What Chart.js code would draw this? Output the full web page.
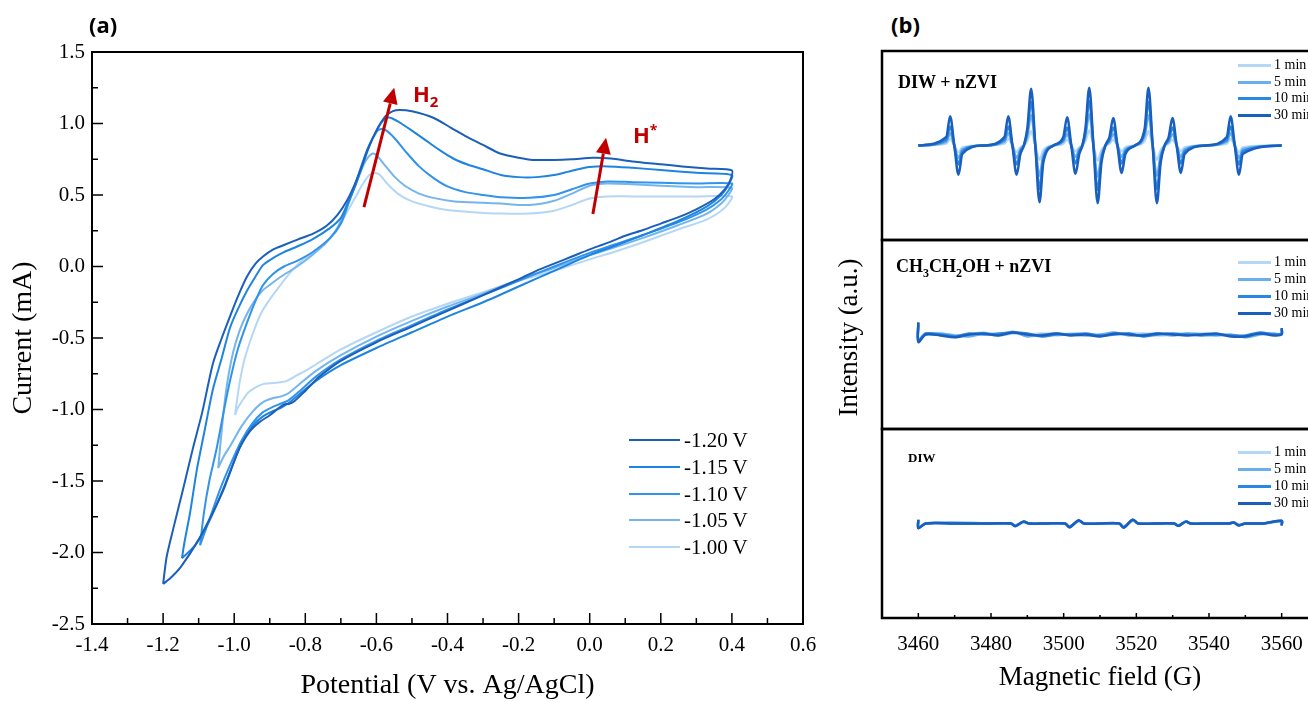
<!DOCTYPE html>
<html>
<head>
<meta charset="utf-8">
<script src="https://cdn.jsdelivr.net/npm/chart.js@4.4.0/dist/chart.umd.min.js"></script>
<style>
html, body { margin: 0; padding: 0; overflow: hidden; background: #fff; }
#page { position: absolute; left: 0; top: 0; width: 1308px; height: 702px; overflow: hidden; background: #fff; }
canvas { position: absolute; }
.txt { position: absolute; white-space: nowrap; line-height: 1; color: #000; font-family: "Liberation Serif", serif; }
.lab { font-family: "Open Sans", sans-serif; font-weight: 700; font-size: 22px; }
.red { font-family: "Open Sans", sans-serif; font-weight: 700; font-size: 22px; color: #c00000; }
.sub { font-family: "Liberation Serif", serif; font-weight: 700; }
.leg { position: absolute; }
</style>
</head>
<body>
<div id="page">
  <canvas id="cv" width="830" height="702" style="left:0;top:0"></canvas>
  <canvas id="eprTop" width="440" height="193" style="left:880px;top:49px"></canvas>
  <canvas id="eprMid" width="440" height="193" style="left:880px;top:238px"></canvas>
  <canvas id="eprLow" width="468" height="275" style="left:866px;top:427px"></canvas>

  <div class="txt lab" style="left:89px;top:13px">(a)</div>
  <div class="txt lab" style="left:891px;top:13px">(b)</div>
  <div class="txt red" style="left:413px;top:82px">H<sub style="font-size:15px">2</sub></div>
  <div class="txt red" style="left:633px;top:123px">H<sup style="font-size:14px">*</sup></div>

  <div class="txt sub" style="left:898px;top:73px;font-size:18px">DIW + nZVI</div>
  <div class="txt sub" style="left:896px;top:257px;font-size:18px">CH<sub style="font-size:12px">3</sub>CH<sub style="font-size:12px">2</sub>OH + nZVI</div>
  <div class="txt sub" style="left:908px;top:451px;font-size:13px">DIW</div>
  <div class="txt" id="ylabB" style="left:768px;top:324px;width:160px;text-align:center;font-size:27px;transform:rotate(-90deg)">Intensity (a.u.)</div>

  <div class="leg" id="legCV" style="left:629px;top:440px"></div>
  <div class="leg" id="legTop" style="left:1238px;top:65px"></div>
  <div class="leg" id="legMid" style="left:1238px;top:262px"></div>
  <div class="leg" id="legLow" style="left:1238px;top:452px"></div>
</div>
<script>
// (a) cyclic voltammograms, [potential V, current mA]
const cvM120 = [[-1.200,-2.22],[-1.190,-2.03],[-1.172,-1.84],[-1.144,-1.56],[-1.116,-1.27],[-1.090,-1.02],[-1.060,-0.68],[-1.035,-0.50],[-1.012,-0.35],[-0.988,-0.20],[-0.964,-0.07],[-0.940,0.02],[-0.919,0.07],[-0.890,0.12],[-0.860,0.15],[-0.820,0.19],[-0.778,0.23],[-0.740,0.285],[-0.710,0.36],[-0.683,0.46],[-0.660,0.58],[-0.640,0.71],[-0.626,0.81],[-0.600,0.95],[-0.575,1.05],[-0.555,1.085],[-0.535,1.094],[-0.500,1.085],[-0.440,1.04],[-0.390,0.97],[-0.345,0.906],[-0.300,0.85],[-0.252,0.79],[-0.200,0.76],[-0.160,0.745],[-0.100,0.745],[-0.050,0.75],[0.010,0.76],[0.060,0.755],[0.120,0.735],[0.200,0.715],[0.260,0.70],[0.330,0.685],[0.400,0.672],
  [0.395,0.60],[0.380,0.54],[0.350,0.47],[0.300,0.40],[0.250,0.345],[0.200,0.30],[0.150,0.255],[0.100,0.215],[0.050,0.165],[0.000,0.12],[-0.050,0.07],[-0.100,0.02],[-0.150,-0.03],[-0.200,-0.09],[-0.300,-0.20],[-0.400,-0.31],[-0.500,-0.42],[-0.600,-0.53],[-0.700,-0.66],[-0.760,-0.77],[-0.800,-0.87],[-0.830,-0.94],[-0.845,-0.96],[-0.860,-0.965],[-0.875,-0.99],[-0.900,-1.04],[-0.930,-1.09],[-0.955,-1.15],[-0.985,-1.27],[-1.030,-1.56],[-1.060,-1.72],[-1.100,-1.91],[-1.150,-2.10],[-1.180,-2.18],[-1.200,-2.22]];
const cvM115 = [[-1.147,-2.04],[-1.140,-1.93],[-1.124,-1.72],[-1.105,-1.42],[-1.085,-1.17],[-1.060,-0.86],[-1.035,-0.64],[-1.012,-0.43],[-0.990,-0.30],[-0.964,-0.17],[-0.940,-0.07],[-0.919,0.01],[-0.890,0.06],[-0.860,0.10],[-0.823,0.14],[-0.780,0.19],[-0.730,0.27],[-0.700,0.34],[-0.683,0.43],[-0.660,0.56],[-0.640,0.70],[-0.620,0.84],[-0.600,0.95],[-0.585,1.01],[-0.570,1.04],[-0.555,1.035],[-0.530,1.00],[-0.500,0.95],[-0.460,0.88],[-0.420,0.81],[-0.380,0.75],[-0.340,0.71],[-0.300,0.68],[-0.250,0.64],[-0.200,0.625],[-0.150,0.625],[-0.100,0.64],[-0.050,0.67],[0.000,0.695],[0.050,0.70],[0.120,0.69],[0.200,0.675],[0.300,0.655],[0.400,0.64],
  [0.390,0.57],[0.370,0.50],[0.330,0.42],[0.250,0.32],[0.150,0.22],[0.066,0.14],[0.000,0.08],[-0.100,-0.03],[-0.200,-0.14],[-0.300,-0.25],[-0.400,-0.35],[-0.500,-0.46],[-0.600,-0.57],[-0.700,-0.69],[-0.770,-0.80],[-0.820,-0.90],[-0.850,-0.96],[-0.870,-0.99],[-0.890,-1.01],[-0.920,-1.05],[-0.950,-1.12],[-0.985,-1.27],[-1.030,-1.55],[-1.070,-1.78],[-1.110,-1.95],[-1.147,-2.04]];
const cvM110 = [[-1.096,-1.95],[-1.085,-1.72],[-1.070,-1.50],[-1.050,-1.28],[-1.030,-1.02],[-1.010,-0.78],[-0.990,-0.58],[-0.965,-0.40],[-0.940,-0.24],[-0.919,-0.13],[-0.890,-0.05],[-0.860,0.00],[-0.823,0.04],[-0.780,0.10],[-0.730,0.20],[-0.700,0.30],[-0.680,0.43],[-0.660,0.57],[-0.640,0.72],[-0.620,0.85],[-0.600,0.94],[-0.590,0.96],[-0.575,0.955],[-0.550,0.90],[-0.520,0.81],[-0.480,0.70],[-0.440,0.62],[-0.400,0.56],[-0.350,0.52],[-0.300,0.50],[-0.250,0.485],[-0.170,0.48],[-0.100,0.50],[-0.050,0.54],[0.000,0.58],[0.050,0.595],[0.120,0.59],[0.200,0.585],[0.300,0.58],[0.400,0.58],
  [0.390,0.53],[0.370,0.47],[0.330,0.40],[0.250,0.31],[0.150,0.22],[0.066,0.15],[0.000,0.095],[-0.100,0.00],[-0.200,-0.10],[-0.300,-0.20],[-0.400,-0.30],[-0.500,-0.41],[-0.600,-0.52],[-0.700,-0.65],[-0.770,-0.77],[-0.820,-0.88],[-0.850,-0.94],[-0.870,-0.96],[-0.890,-0.98],[-0.920,-1.02],[-0.950,-1.10],[-0.980,-1.22],[-1.010,-1.38],[-1.040,-1.56],[-1.070,-1.77],[-1.096,-1.95]];
const cvM105 = [[-1.045,-1.41],[-1.038,-1.22],[-1.030,-1.02],[-1.020,-0.82],[-1.003,-0.60],[-0.985,-0.45],[-0.964,-0.33],[-0.940,-0.23],[-0.919,-0.165],[-0.890,-0.11],[-0.871,-0.075],[-0.823,0.00],[-0.780,0.08],[-0.740,0.17],[-0.710,0.27],[-0.690,0.38],[-0.670,0.50],[-0.650,0.63],[-0.630,0.74],[-0.612,0.79],[-0.600,0.78],[-0.580,0.72],[-0.550,0.63],[-0.520,0.565],[-0.480,0.51],[-0.440,0.48],[-0.380,0.455],[-0.300,0.445],[-0.250,0.44],[-0.170,0.43],[-0.100,0.46],[-0.050,0.51],[0.000,0.565],[0.050,0.58],[0.120,0.575],[0.200,0.565],[0.300,0.555],[0.400,0.55],
  [0.390,0.50],[0.370,0.44],[0.330,0.37],[0.250,0.29],[0.150,0.20],[0.066,0.13],[0.000,0.08],[-0.100,-0.01],[-0.200,-0.09],[-0.300,-0.19],[-0.400,-0.28],[-0.500,-0.38],[-0.600,-0.49],[-0.700,-0.62],[-0.770,-0.73],[-0.820,-0.83],[-0.850,-0.89],[-0.870,-0.91],[-0.890,-0.92],[-0.920,-0.95],[-0.950,-1.02],[-0.980,-1.12],[-1.010,-1.25],[-1.030,-1.33],[-1.045,-1.41]];
const cvM100 = [[-0.998,-1.04],[-0.990,-0.90],[-0.984,-0.80],[-0.970,-0.64],[-0.947,-0.465],[-0.925,-0.33],[-0.900,-0.23],[-0.870,-0.13],[-0.843,-0.045],[-0.810,0.04],[-0.778,0.094],[-0.740,0.17],[-0.710,0.255],[-0.683,0.38],[-0.660,0.48],[-0.640,0.57],[-0.620,0.64],[-0.604,0.654],[-0.590,0.64],[-0.570,0.58],[-0.540,0.51],[-0.500,0.455],[-0.450,0.42],[-0.400,0.395],[-0.330,0.38],[-0.250,0.37],[-0.170,0.37],[-0.100,0.39],[-0.050,0.43],[0.000,0.475],[0.050,0.49],[0.120,0.49],[0.200,0.49],[0.300,0.49],[0.400,0.49],
  [0.390,0.44],[0.370,0.39],[0.330,0.33],[0.250,0.26],[0.150,0.17],[0.066,0.10],[0.000,0.05],[-0.100,-0.03],[-0.200,-0.10],[-0.300,-0.18],[-0.400,-0.26],[-0.500,-0.35],[-0.600,-0.46],[-0.700,-0.58],[-0.767,-0.68],[-0.800,-0.73],[-0.823,-0.76],[-0.852,-0.80],[-0.870,-0.81],[-0.890,-0.815],[-0.915,-0.82],[-0.936,-0.84],[-0.960,-0.88],[-0.975,-0.93],[-0.990,-0.99],[-0.998,-1.04]];

const cvLabels = ['-1.20 V', '-1.15 V', '-1.10 V', '-1.05 V', '-1.00 V'];
const cvColors = ['#1b5fba', '#1e84df', '#3193ea', '#74b5ef', '#b4d7f6'];
const cvLoops = [cvM120, cvM115, cvM110, cvM105, cvM100];

// (b) EPR spectra, magnetic field in G, intensity in arbitrary units
const eprLabels = ['1 min', '5 min', '10 min', '30 min'];
const eprColors = ['#b4d7f6', '#6aaeec', '#2a88e2', '#1a5fbe'];

const fieldTop = [3460,
  3467.7, 3468.75, 3469.9, 3471.05, 3472.1, 3478,
  3483.7, 3484.75, 3485.9, 3487.05, 3488.1, 3489.05,
  3490.0, 3491.05, 3492.2, 3493.35, 3494.4, 3497.2,
  3499.9, 3500.95, 3502.1, 3503.25, 3504.3, 3505.15,
  3506.0, 3507.05, 3508.2, 3509.35, 3510.4, 3511.5,
  3512.6, 3513.65, 3514.8, 3515.95, 3517.0, 3519.65,
  3522.3, 3523.35, 3524.5, 3525.65, 3526.7, 3527.8,
  3528.9, 3529.95, 3531.1, 3532.25, 3533.3, 3539.1,
  3544.9, 3545.95, 3547.1, 3548.25, 3549.3, 3560];
const top1 = [0, 0.02,0.07,0,-0.07,-0.02, 0, 0.02,0.07,0,-0.07,-0.02, 0, 0.05,0.15,0,-0.15,-0.05, 0, 0.02,0.06,0,-0.06,-0.02, 0, 0.05,0.16,0,-0.16,-0.05, 0, 0.02,0.06,0,-0.06,-0.02, 0, 0.05,0.15,0,-0.15,-0.05, 0, 0.02,0.06,0,-0.06,-0.02, 0, 0.02,0.07,0,-0.07,-0.02, 0];
const top5 = [0, 0.04,0.13,0,-0.13,-0.04, 0, 0.04,0.13,0,-0.13,-0.04, 0, 0.10,0.32,0,-0.32,-0.10, 0, 0.04,0.12,0,-0.12,-0.04, 0, 0.10,0.33,0,-0.33,-0.10, 0, 0.04,0.12,0,-0.12,-0.04, 0, 0.10,0.32,0,-0.32,-0.10, 0, 0.04,0.12,0,-0.12,-0.04, 0, 0.04,0.13,0,-0.13,-0.04, 0];
const top10 = [0, 0.06,0.20,0,-0.20,-0.06, 0, 0.06,0.20,0,-0.20,-0.06, 0, 0.14,0.46,0,-0.46,-0.14, 0, 0.06,0.19,0,-0.19,-0.06, 0, 0.14,0.47,0,-0.47,-0.14, 0, 0.06,0.19,0,-0.19,-0.06, 0, 0.14,0.46,0,-0.46,-0.14, 0, 0.06,0.19,0,-0.19,-0.06, 0, 0.06,0.20,0,-0.20,-0.06, 0];
const top30 = [0, 0.09,0.31,0,-0.31,-0.09, 0, 0.09,0.31,0,-0.31,-0.09, 0, 0.18,0.60,0,-0.60,-0.18, 0, 0.09,0.30,0,-0.30,-0.09, 0, 0.18,0.61,0,-0.61,-0.18, 0, 0.09,0.29,0,-0.29,-0.09, 0, 0.18,0.61,0,-0.61,-0.18, 0, 0.09,0.29,0,-0.29,-0.09, 0, 0.09,0.31,0,-0.31,-0.09, 0];

const fieldMid = [3460, 3460.01, 3462, 3466, 3470, 3474, 3478, 3482, 3486, 3490, 3494, 3498, 3502, 3506, 3510, 3514, 3518, 3522, 3526, 3530, 3534, 3538, 3542, 3546, 3550, 3554, 3558, 3559.99, 3560];
const mid1 = [0.08,-0.05,0.01,0.00,-0.02,0.00,0.02,-0.01,0.01,0.00,0.01,-0.01,0.01,0.00,-0.01,0.00,0.01,0.01,-0.01,0.00,0.01,0.01,0.00,-0.01,-0.02,0.01,0.00,0.01,0.04];
const mid5 = [0.10,-0.06,0.00,0.01,-0.01,-0.02,0.01,0.00,0.03,-0.02,0.00,0.01,0.00,-0.01,0.00,0.02,-0.01,0.00,0.01,-0.01,0.01,0.00,-0.01,0.00,-0.03,0.00,0.01,0.00,0.05];
const mid10 = [0.12,-0.07,0.01,0.00,-0.02,0.01,0.00,0.01,0.02,0.01,-0.02,0.00,0.00,0.01,-0.01,0.00,0.01,-0.02,0.00,0.01,0.00,-0.01,0.00,-0.01,-0.01,0.02,0.00,0.01,0.06];
const mid30 = [0.13,-0.08,0.00,-0.01,-0.03,0.00,0.01,-0.01,0.02,0.00,-0.01,0.01,-0.01,0.00,-0.02,0.01,0.00,-0.01,0.01,0.00,-0.01,0.00,0.01,-0.02,-0.02,0.01,-0.01,0.00,0.07];

const fieldLow = [3460, 3460.01, 3462, 3470, 3480, 3485.5, 3486.7, 3488.9, 3490.5, 3495, 3500.4, 3501.6, 3504.1, 3505.6, 3510, 3515.3, 3516.5, 3519.0, 3520.5, 3525, 3530.4, 3531.6, 3533.6, 3535, 3540, 3545.5, 3546.8, 3548.2, 3550, 3555, 3559.99, 3560];
const low1 = [0.03,-0.04,0.00,0.00,0.00,0.00,-0.02,0.01,0.00,0.00,0.00,-0.03,0.025,0.00,0.00,0.00,-0.03,0.03,0.00,0.00,0.00,-0.02,0.015,0.00,0.00,0.00,0.01,-0.01,0.00,0.00,0.02,-0.01];
const low5 = [0.035,-0.045,0.00,0.01,0.00,0.00,-0.02,0.015,0.00,0.00,0.00,-0.035,0.03,0.00,0.00,0.00,-0.04,0.035,0.00,0.00,0.00,-0.02,0.02,0.00,0.00,0.00,0.01,-0.015,0.00,0.00,0.025,-0.015];
const low10 = [0.04,-0.05,0.00,0.00,0.00,0.00,-0.025,0.02,0.00,0.00,0.00,-0.04,0.03,0.00,0.00,0.00,-0.04,0.04,0.00,0.00,0.00,-0.025,0.02,0.00,0.00,0.00,0.01,-0.02,0.00,0.00,0.03,-0.02];
const low30 = [0.04,-0.05,0.00,0.00,0.00,0.00,-0.03,0.02,0.00,0.00,0.00,-0.04,0.035,0.00,0.00,0.00,-0.045,0.04,0.00,0.00,0.00,-0.025,0.02,0.00,0.00,0.00,0.01,-0.02,0.00,0.00,0.03,-0.02];

Chart.defaults.color = '#000';
const serif = '"Liberation Serif", "Times New Roman", serif';

// frame around the plot area
const framePlugin = {
  id: 'frame',
  afterDraw(chart, args, opts) {
    const a = chart.chartArea, ctx = chart.ctx;
    ctx.save();
    ctx.strokeStyle = '#000';
    ctx.lineWidth = opts.width || 2;
    ctx.strokeRect(a.left, a.top, a.right - a.left, a.bottom - a.top);
    ctx.restore();
  }
};

// major + minor tick marks pointing into the plot
const innerTicks = {
  id: 'innerTicks',
  afterDraw(chart, args, opts) {
    const ctx = chart.ctx, area = chart.chartArea;
    ctx.save();
    ctx.strokeStyle = '#000';
    ctx.lineWidth = opts.width || 1.5;
    (opts.axes || []).forEach(a => {
      const s = chart.scales[a.id];
      const n = Math.round((s.max - s.min) / a.minor);
      for (let i = 0; i <= n; i++) {
        const v = s.min + i * a.minor;
        const k = (v - a.origin) / a.major;
        const len = Math.abs(k - Math.round(k)) < 1e-6 ? a.majorLen : a.minorLen;
        const p = s.getPixelForValue(v);
        ctx.beginPath();
        if (s.isHorizontal()) {
          ctx.moveTo(p, area.bottom); ctx.lineTo(p, area.bottom - len);
        } else {
          ctx.moveTo(area.left, p); ctx.lineTo(area.left + len, p);
        }
        ctx.stroke();
      }
    });
    ctx.restore();
  }
};

// red arrows in data coordinates
const arrowPlugin = {
  id: 'arrows',
  afterDatasetsDraw(chart, args, opts) {
    const ctx = chart.ctx, x = chart.scales.x, y = chart.scales.y;
    ctx.save();
    ctx.strokeStyle = opts.color;
    ctx.fillStyle = opts.color;
    ctx.lineWidth = opts.width;
    opts.items.forEach(it => {
      const x0 = x.getPixelForValue(it.from[0]), y0 = y.getPixelForValue(it.from[1]);
      const x1 = x.getPixelForValue(it.to[0]), y1 = y.getPixelForValue(it.to[1]);
      const ang = Math.atan2(y1 - y0, x1 - x0);
      const bx = x1 - opts.head * Math.cos(ang), by = y1 - opts.head * Math.sin(ang);
      const w = opts.headW / 2;
      ctx.beginPath(); ctx.moveTo(x0, y0); ctx.lineTo(bx, by); ctx.stroke();
      ctx.beginPath();
      ctx.moveTo(x1, y1);
      ctx.lineTo(bx + w * Math.sin(ang), by - w * Math.cos(ang));
      ctx.lineTo(bx - w * Math.sin(ang), by + w * Math.cos(ang));
      ctx.closePath(); ctx.fill();
    });
    ctx.restore();
  }
};

function fmt1(v) {
  const r = Math.round(v * 10) / 10;
  return (r === 0 ? 0 : r).toFixed(1);
}

new Chart(document.getElementById('cv'), {
  type: 'scatter',
  data: {
    datasets: cvLoops.map((loop, i) => ({
      label: cvLabels[i],
      data: loop.map(p => ({ x: p[0], y: p[1] })),
      showLine: true,
      borderColor: cvColors[i],
      borderWidth: 2,
      pointRadius: 0,
      tension: 0.25,
      fill: false
    }))
  },
  options: {
    responsive: false,
    animation: false,
    layout: { padding: { left: 0, top: 52, right: 27, bottom: 0 } },
    plugins: {
      legend: { display: false },
      tooltip: { enabled: false },
      frame: { width: 2 },
      innerTicks: {
        width: 1.5,
        axes: [
          { id: 'x', major: 0.2, minor: 0.1, origin: -1.4, majorLen: 11, minorLen: 6 },
          { id: 'y', major: 0.5, minor: 0.25, origin: -2.5, majorLen: 11, minorLen: 6 }
        ]
      },
      arrows: {
        color: '#c00000', width: 3, head: 16, headW: 15,
        items: [
          { from: [-0.635, 0.416], to: [-0.550, 1.250] },
          { from: [0.009, 0.367], to: [0.046, 0.900] }
        ]
      }
    },
    scales: {
      x: {
        type: 'linear', min: -1.4, max: 0.6,
        grid: { display: false, drawTicks: false },
        border: { display: false },
        ticks: { stepSize: 0.2, autoSkip: false, maxRotation: 0, padding: 9, font: { family: serif, size: 21 }, callback: v => fmt1(v) },
        title: { display: true, text: 'Potential (V vs. Ag/AgCl)', font: { family: serif, size: 28 }, padding: { top: 0, bottom: 0 } },
        afterFit: s => { s.height = 78; }
      },
      y: {
        type: 'linear', min: -2.5, max: 1.5,
        grid: { display: false, drawTicks: false },
        border: { display: false },
        ticks: { stepSize: 0.5, autoSkip: false, padding: 7, font: { family: serif, size: 21 }, callback: v => fmt1(v) },
        title: { display: true, text: 'Current (mA)', font: { family: serif, size: 28 }, padding: { top: 7, bottom: 0 } },
        afterFit: s => { s.width = 92; }
      }
    }
  },
  plugins: [framePlugin, innerTicks, arrowPlugin]
});

function eprChart(id, field, series, smooth, withAxis) {
  // dark (30 min) on top: dataset 0 is drawn last
  const order = [3, 2, 1, 0];
  const datasets = order.map(i => ({
    label: eprLabels[i],
    data: series[i].map((v, j) => ({ x: field[j], y: v })),
    showLine: true,
    borderColor: eprColors[i],
    borderWidth: 2.5,
    pointRadius: 0,
    tension: smooth ? 0 : 0.3,
    cubicInterpolationMode: smooth ? 'monotone' : 'default',
    fill: false
  }));
  const x = {
    type: 'linear', min: 3450, max: 3570,
    display: withAxis,
    grid: { display: false, drawTicks: false },
    border: { display: false },
    ticks: { stepSize: 10, autoSkip: false, maxRotation: 0, padding: 14, font: { family: serif, size: 21 },
      callback: v => (v % 20 === 0 ? String(v) : '') },
    title: { display: true, text: 'Magnetic field (G)', font: { family: serif, size: 27 }, padding: { top: 0, bottom: 8 } }
  };
  if (withAxis) x.afterFit = s => { s.height = 84; };
  // the tick padding also pads the plot sideways, so the bottom canvas is wider
  const side = withAxis ? 16 : 2;
  return new Chart(document.getElementById(id), {
    type: 'scatter',
    data: { datasets },
    options: {
      responsive: false,
      animation: false,
      layout: { padding: { left: side, top: 2, right: side, bottom: withAxis ? 0 : 2 } },
      plugins: {
        legend: { display: false },
        tooltip: { enabled: false },
        frame: { width: 2.5 },
        innerTicks: { width: 1.5, axes: withAxis ? [{ id: 'x', major: 20, minor: 10, origin: 3460, majorLen: 5, minorLen: 3 }] : [] }
      },
      scales: {
        x: x,
        y: { type: 'linear', min: -1, max: 1, display: false }
      }
    },
    plugins: [framePlugin, innerTicks]
  });
}

eprChart('eprTop', fieldTop, [top1, top5, top10, top30], true, false);
eprChart('eprMid', fieldMid, [mid1, mid5, mid10, mid30], false, false);
eprChart('eprLow', fieldLow, [low1, low5, low10, low30], false, true);

// legends built from the label / colour arrays
function makeLegend(id, labels, colors, o) {
  const el = document.getElementById(id);
  labels.forEach((t, i) => {
    const y = Math.round(i * o.rowH);
    const ln = document.createElement('div');
    ln.style.cssText = `position:absolute;left:0;top:${y - 1}px;width:${o.len}px;height:${o.lw}px;background:${colors[i]}`;
    const tx = document.createElement('div');
    tx.textContent = t;
    tx.style.cssText = `position:absolute;left:${o.len + o.gap}px;top:${y}px;transform:translateY(-50%);font-family:${serif};font-size:${o.size}px;line-height:1;white-space:nowrap;color:#000`;
    el.appendChild(ln);
    el.appendChild(tx);
  });
}
makeLegend('legCV', cvLabels, cvColors, { rowH: 26.75, len: 51, gap: 4, lw: 2, size: 21 });
makeLegend('legTop', eprLabels, eprColors, { rowH: 16.7, len: 33, gap: 3, lw: 3, size: 14 });
makeLegend('legMid', eprLabels, eprColors, { rowH: 16.9, len: 33, gap: 3, lw: 3, size: 14 });
makeLegend('legLow', eprLabels, eprColors, { rowH: 17, len: 33, gap: 3, lw: 3, size: 14 });
</script>
</body>
</html>
